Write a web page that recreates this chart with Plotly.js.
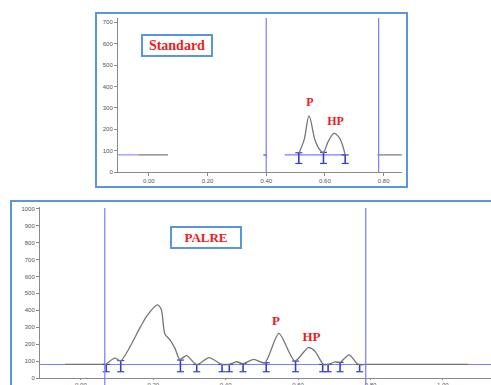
<!DOCTYPE html>
<html>
<head>
<meta charset="utf-8">
<script src="https://cdn.plot.ly/plotly-3.0.1.min.js"></script>
<style>html,body{margin:0;padding:0;background:#fff;}#chart{width:491px;height:385px;}</style>
</head>
<body>
<div id="chart"></div>
<script>
// ---- Standard panel data ----
var stdX = [0.511, 0.529, 0.546, 0.566, 0.583, 0.594, 0.611, 0.631, 0.650, 0.669];
var stdY = [87, 150, 262, 150, 103, 91, 142, 181, 158, 80];
var stdBaseBlue = [-0.105, -0.037];
var stdBaseGray = [-0.037, 0.065];
var stdSegBlue = [0.463, 0.670];
var stdTailGray = [0.779, 0.862];
var stdBounds = [0.40, 0.783];
var stdCuts = [0.511, 0.595, 0.669];
var stdCutTop = [90, 92, 80];
var stdLabels = ['P', 'HP'];
var stdLabelX = [0.549, 0.636];
var stdLabelY = [324, 232];
var stdTicks = [0, 0.2, 0.4, 0.6, 0.8];
var stdTickText = ['0.00', '0.20', '0.40', '0.60', '0.80'];
var stdYTicks = [0, 100, 200, 300, 400, 500, 600, 700];

// ---- PALRE panel data ----
var palX = [0.069, 0.094, 0.110, 0.163, 0.181, 0.211, 0.222, 0.232, 0.246, 0.260, 0.273, 0.292, 0.320, 0.354, 0.389, 0.410, 0.430, 0.448, 0.478, 0.508, 0.547, 0.591, 0.628, 0.646, 0.670, 0.683, 0.702, 0.716, 0.741, 0.766, 0.787];
var palY = [80, 117, 102, 296, 363, 432, 405, 260, 225, 175, 110, 132, 78, 120, 80, 80, 96, 85, 110, 90, 264, 100, 180, 160, 80, 80, 95, 92, 136, 80, 80];
var palBaseBlue = [-0.113, 1.133];
var palBaseGray1 = [-0.044, 0.066];
var palBaseGray2 = [0.787, 1.070];
var palBounds = [0.066, 0.787];
var palCuts = [0.070, 0.110, 0.275, 0.320, 0.390, 0.410, 0.448, 0.512, 0.593, 0.668, 0.683, 0.716, 0.770];
var palCutTop = [80, 103, 106, 80, 80, 80, 85, 90, 100, 80, 80, 92, 80];
var palLabels = ['P', 'HP'];
var palLabelX = [0.539, 0.637];
var palLabelY = [333, 235];
var palTicks = [0, 0.2, 0.4, 0.6, 0.8, 1.0];
var palTickText = ['0.00', '0.20', '0.40', '0.60', '0.80', '1.00'];
var palYTicks = [0, 100, 200, 300, 400, 500, 600, 700, 800, 900, 1000];

var BASE = 80;
var LINEBLUE = '#7a7aff';
var CUTBLUE = '#3a3ad8';
var BORDER = '#5a96dc';
var GRAY = '#767676';

function segTrace(xs, ys, color, width, xa, ya) {
  return {x: xs, y: ys, xaxis: xa, yaxis: ya, mode: 'lines', type: 'scatter',
    line: {color: color, width: width}, hoverinfo: 'skip', showlegend: false, cliponaxis: false};
}
function cutTrace(cuts, tops, bottom, xa, ya) {
  var xs = [], ys = [];
  for (var i = 0; i < cuts.length; i++) { xs.push(cuts[i], cuts[i], null); ys.push(tops[i], bottom, null); }
  return {x: xs, y: ys, xaxis: xa, yaxis: ya, mode: 'lines+markers', type: 'scatter',
    line: {color: CUTBLUE, width: 1.6}, marker: {symbol: 'line-ew-open', size: 5, color: CUTBLUE, line: {color: CUTBLUE, width: 1.2}},
    hoverinfo: 'skip', showlegend: false};
}

var data = [
  // standard
  segTrace(stdBaseBlue, [BASE, BASE], LINEBLUE, 1, 'x', 'y'),
  segTrace(stdBaseGray, [BASE, BASE], GRAY, 1.2, 'x', 'y'),
  segTrace(stdSegBlue, [BASE, BASE], LINEBLUE, 1.2, 'x', 'y'),
  segTrace(stdTailGray, [BASE, BASE], GRAY, 1.2, 'x', 'y'),
  segTrace([stdBounds[0] - 0.01, stdBounds[0], stdBounds[0]], [BASE, BASE, BASE - 10], '#5a5ad8', 1.2, 'x', 'y'),
  cutTrace(stdCuts, stdCutTop, 40, 'x', 'y'),
  {x: stdX, y: stdY, xaxis: 'x', yaxis: 'y', mode: 'lines', type: 'scatter', line: {color: GRAY, width: 1.3, shape: 'spline', smoothing: 1}, hoverinfo: 'skip', showlegend: false},
  {x: stdLabelX, y: stdLabelY, text: stdLabels, xaxis: 'x', yaxis: 'y', mode: 'text', type: 'scatter',
    textfont: {family: 'Liberation Serif, serif', size: 12, color: '#ee1c1c', weight: 'bold'}, hoverinfo: 'skip', showlegend: false},
  // palre
  segTrace(palBaseBlue, [BASE, BASE], LINEBLUE, 1, 'x2', 'y2'),
  segTrace(palBaseGray1, [BASE, BASE], GRAY, 1.2, 'x2', 'y2'),
  segTrace(palBaseGray2, [BASE, BASE], GRAY, 1.2, 'x2', 'y2'),
  cutTrace(palCuts, palCutTop, 37, 'x2', 'y2'),
  {x: palX, y: palY, xaxis: 'x2', yaxis: 'y2', mode: 'lines', type: 'scatter', line: {color: GRAY, width: 1.3, shape: 'spline', smoothing: 0.7}, hoverinfo: 'skip', showlegend: false},
  {x: palLabelX, y: palLabelY, text: palLabels, xaxis: 'x2', yaxis: 'y2', mode: 'text', type: 'scatter',
    textfont: {family: 'Liberation Serif, serif', size: 13, color: '#ee1c1c', weight: 'bold'}, hoverinfo: 'skip', showlegend: false}
];

var axisCommon = {showgrid: false, zeroline: false, showline: true, linecolor: '#8a8a8a', linewidth: 1,
  ticks: 'outside', ticklen: 3, tickcolor: '#8a8a8a', tickfont: {family: 'Arial, Liberation Sans, sans-serif', size: 6, color: '#555'}, fixedrange: true};

function ax(extra) { var o = JSON.parse(JSON.stringify(axisCommon)); for (var k in extra) o[k] = extra[k]; return o; }

var shapes = [
  {type: 'rect', xref: 'paper', yref: 'paper', x0: 96/491, x1: 407/491, y0: 1 - 187/385, y1: 1 - 13/385, line: {color: BORDER, width: 2}},
  {type: 'rect', xref: 'paper', yref: 'paper', x0: 11/491, x1: 1.02, y0: -0.02, y1: 1 - 201/385, line: {color: BORDER, width: 2}}
];
stdBounds.forEach(function (b) {
  shapes.push({type: 'line', xref: 'x', yref: 'paper', x0: b, x1: b, y0: 1 - 172/385, y1: 1 - 18/385, line: {color: LINEBLUE, width: 1.2}});
});
palBounds.forEach(function (b) {
  shapes.push({type: 'line', xref: 'x2', yref: 'paper', x0: b, x1: b, y0: 0, y1: 1 - 208/385, line: {color: LINEBLUE, width: 1.2}});
});

var layout = {
  width: 491, height: 385,
  margin: {l: 0, r: 0, t: 0, b: 0},
  paper_bgcolor: '#fff', plot_bgcolor: 'rgba(0,0,0,0)',
  showlegend: false,
  xaxis: ax({domain: [118/491, 402/491], range: [-0.105, 0.8626], tickvals: stdTicks, ticktext: stdTickText, anchor: 'y'}),
  yaxis: ax({domain: [1 - 172/385, 1 - 18/385], range: [0, 720], tickvals: stdYTicks, anchor: 'x'}),
  xaxis2: ax({domain: [40/491, 1], range: [-0.113, 1.133], tickvals: palTicks, ticktext: palTickText, anchor: 'y2', ticklen: 1}),
  yaxis2: ax({domain: [1 - 378/385, 1 - 207/385], range: [0, 1010], tickvals: palYTicks, anchor: 'x2'}),
  shapes: shapes,
  annotations: [
    {xref: 'paper', yref: 'paper', x: 177/491, y: 1 - 45.5/385, xanchor: 'center', yanchor: 'middle', showarrow: false,
      text: '<b>Standard</b>', font: {family: 'Liberation Serif, serif', size: 14, color: '#ee1c1c'},
      bgcolor: '#fff', bordercolor: BORDER, borderwidth: 2, width: 66, height: 17, borderpad: 1},
    {xref: 'paper', yref: 'paper', x: 205.5/491, y: 1 - 237/385, xanchor: 'center', yanchor: 'middle', showarrow: false,
      text: '<b>PALRE</b>', font: {family: 'Liberation Serif, serif', size: 13, color: '#ee1c1c'},
      bgcolor: '#fff', bordercolor: BORDER, borderwidth: 2, width: 66, height: 17, borderpad: 1}
  ]
};

Plotly.newPlot('chart', data, layout, {staticPlot: true, displayModeBar: false});
</script>
</body>
</html>
